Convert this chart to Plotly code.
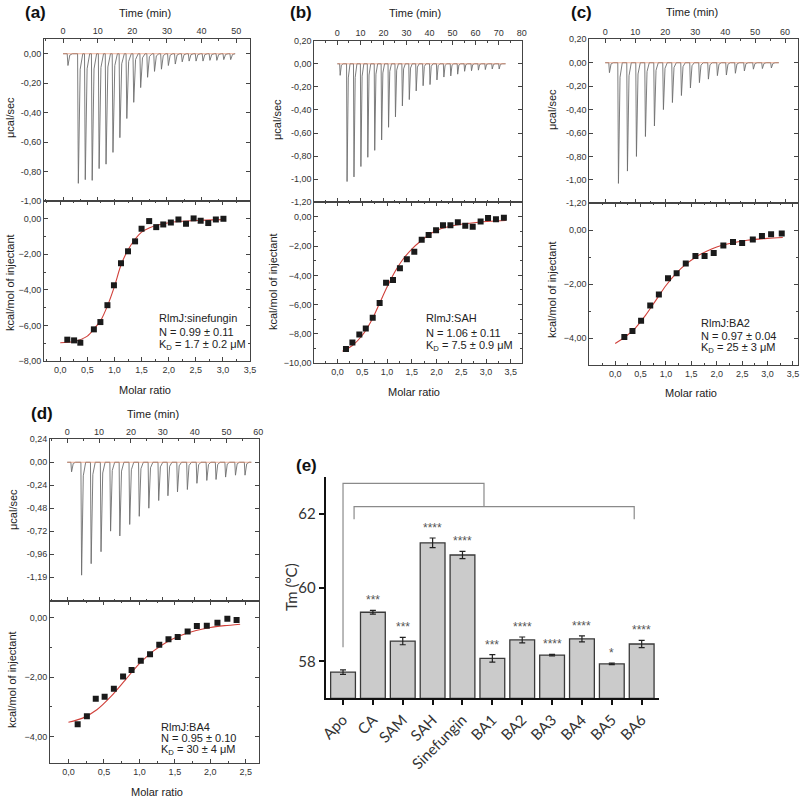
import plotly.graph_objects as go

W, H = 800, 799

# ---------------- DATA ----------------
# (a) RlmJ:sinefungin
a_inj_time = [1.2, 4.2, 6.2, 8.2, 10.2, 12.2, 14.2, 16.2, 18.2, 20.2, 22.2, 24.2, 26.2, 28.2,
              30.2, 32.2, 34.2, 36.2, 38.2, 40.2, 42.2, 44.2, 46.2, 48.2]
a_inj_depth = [-0.08, -0.88, -0.855, -0.86, -0.78, -0.75, -0.67, -0.57, -0.44, -0.33, -0.23, -0.16,
               -0.12, -0.105, -0.08, -0.07, -0.055, -0.05, -0.05, -0.05, -0.045, -0.045, -0.04, -0.04]
a_t_end = 49.6
a_time_ticks = [0, 10, 20, 30, 40, 50]
a_ratio = [0.13, 0.255, 0.37, 0.62, 0.74, 0.87, 0.99, 1.12, 1.25, 1.38, 1.5, 1.64, 1.77, 1.9,
           2.04, 2.18, 2.32, 2.46, 2.59, 2.73, 2.87, 3.01]
a_heat = [-6.8, -6.84, -6.97, -6.22, -5.81, -4.86, -3.74, -2.5, -1.83, -1.27, -0.56, -0.13, -0.47,
          -0.32, -0.21, -0.04, -0.28, 0.02, -0.11, -0.24, -0.04, 0.0]
a_fit_x = [0.0, 0.25, 0.5, 0.62, 0.75, 0.87, 1.0, 1.12, 1.25, 1.38, 1.5, 1.65, 1.8, 2.0, 2.5, 3.0]
a_fit_y = [-6.97, -6.9, -6.6, -6.2, -5.7, -4.9, -3.8, -2.6, -1.75, -1.15, -0.75, -0.5, -0.35, -0.22, -0.1, -0.05]
a_text = ["RlmJ:sinefungin", "N = 0.99 ± 0.11", "K<sub>D</sub> = 1.7 ± 0.2 μM"]

# (b) RlmJ:SAH
b_inj_time = [1, 4, 7, 10, 13, 16, 19, 22, 25, 28, 31, 34, 37, 40, 43, 46, 49, 52, 55, 58, 61, 64, 67, 70]
b_inj_depth = [-0.1, -1.02, -0.98, -0.89, -0.81, -0.75, -0.66, -0.55, -0.46, -0.365, -0.31, -0.235,
               -0.19, -0.18, -0.14, -0.115, -0.105, -0.09, -0.065, -0.06, -0.055, -0.05, -0.045, -0.045]
b_t_end = 73
b_time_ticks = [0, 10, 20, 30, 40, 50, 60, 70, 80]
b_ratio = [0.17, 0.30, 0.44, 0.57, 0.71, 0.85, 0.98, 1.12, 1.26, 1.40, 1.55, 1.70, 1.84, 1.99,
           2.13, 2.28, 2.43, 2.58, 2.73, 2.89, 3.04, 3.2, 3.36]
b_heat = [-9.05, -8.6, -8.05, -7.64, -6.9, -5.89, -4.5, -4.32, -3.52, -2.9, -2.39, -1.57, -1.23,
          -0.91, -0.57, -0.57, -0.36, -0.61, -0.68, -0.32, -0.07, -0.16, -0.05]
b_fit_x = [0.1, 0.3, 0.5, 0.7, 0.85, 1.0, 1.15, 1.3, 1.5, 1.7, 1.9, 2.1, 2.4, 2.8, 3.1, 3.4]
b_fit_y = [-9.2, -8.8, -8.1, -7.0, -5.9, -4.8, -3.8, -3.0, -2.2, -1.6, -1.1, -0.8, -0.55, -0.38, -0.3, -0.25]
b_text = ["RlmJ:SAH", "N = 1.06 ± 0.11", "K<sub>D</sub> = 7.5 ± 0.9 μM"]

# (c) RlmJ:BA2
c_inj_time = [1.2, 4.2, 7.2, 10.2, 13.2, 16.2, 19.2, 22.2, 25.2, 28.2, 31.2, 34.2, 37.2, 40.2,
              43.2, 46.2, 49.2, 52.2, 55.2]
c_inj_depth = [-0.085, -1.03, -0.925, -0.8, -0.63, -0.54, -0.4, -0.34, -0.28, -0.215, -0.17, -0.14,
               -0.11, -0.105, -0.09, -0.07, -0.055, -0.05, -0.045]
c_t_end = 57.9
c_time_ticks = [0, 10, 20, 30, 40, 50, 60]
c_ratio = [0.18, 0.34, 0.51, 0.69, 0.86, 1.04, 1.21, 1.39, 1.58, 1.76, 1.94, 2.13, 2.32, 2.5,
           2.71, 2.89, 3.07, 3.28]
c_heat = [-3.96, -3.74, -3.36, -2.79, -2.38, -1.78, -1.6, -1.23, -0.96, -0.96, -0.84, -0.57, -0.44,
          -0.47, -0.34, -0.21, -0.15, -0.12]
c_fit_x = [0.0, 0.2, 0.4, 0.6, 0.8, 1.0, 1.2, 1.4, 1.6, 1.8, 2.0, 2.3, 2.6, 3.0, 3.3]
c_fit_y = [-4.2, -3.95, -3.62, -3.15, -2.6, -2.05, -1.6, -1.25, -0.98, -0.78, -0.62, -0.47, -0.37, -0.3, -0.27]
c_text = ["RlmJ:BA2", "N = 0.97 ± 0.04", "K<sub>D</sub> = 25 ± 3 μM"]

# (d) RlmJ:BA4
d_inj_time = [1.15, 4.3, 7.3, 10.4, 13.4, 16.3, 19.4, 22.4, 25.4, 28.5, 31.4, 34.4, 37.5, 40.5,
              43.6, 46.5, 49.5, 52.6, 55.6]
d_inj_depth = [-0.1, -1.18, -1.06, -0.935, -0.72, -0.77, -0.65, -0.565, -0.48, -0.4, -0.35, -0.31,
               -0.285, -0.22, -0.19, -0.18, -0.155, -0.135, -0.135]
d_t_end = 57.8
d_time_ticks = [0, 10, 20, 30, 40, 50, 60]
d_ratio = [0.13, 0.26, 0.385, 0.51, 0.64, 0.77, 0.89, 1.02, 1.15, 1.28, 1.41, 1.54, 1.68, 1.81,
           1.95, 2.1, 2.24, 2.37]
d_heat = [-3.59, -3.32, -2.73, -2.66, -2.39, -1.98, -1.76, -1.45, -1.23, -0.91, -0.73, -0.65,
          -0.47, -0.28, -0.27, -0.17, -0.04, -0.08]
d_fit_x = [0.0, 0.2, 0.4, 0.6, 0.8, 1.0, 1.2, 1.4, 1.6, 1.8, 2.0, 2.2, 2.42]
d_fit_y = [-3.52, -3.38, -3.1, -2.65, -2.1, -1.55, -1.12, -0.8, -0.58, -0.43, -0.33, -0.27, -0.22]
d_text = ["RlmJ:BA4", "N = 0.95 ± 0.10", "K<sub>D</sub> = 30 ± 4 μM"]

# (e) Thermal shift
e_categories = ["Apo", "CA", "SAM", "SAH", "Sinefungin", "BA1", "BA2", "BA3", "BA4", "BA5", "BA6"]
e_tm = [57.71, 59.33, 58.55, 61.21, 60.88, 58.08, 58.58, 58.17, 58.61, 57.93, 58.47]
e_err = [0.06, 0.05, 0.1, 0.13, 0.1, 0.1, 0.08, 0.02, 0.08, 0.02, 0.1]
e_stars = ["", "***", "***", "****", "****", "***", "****", "****", "****", "*", "****"]
e_bracket1_x = [0.0, 0.0, 4.72, 4.72]
e_bracket1_y = [58.38, 62.82, 62.82, 62.19]
e_bracket2_x = [0.37, 0.37, 9.75, 9.75]
e_bracket2_y = [61.85, 62.19, 62.19, 61.85]

# ---------------- HELPERS ----------------
def px(x):
    return x / W

def py(y):
    return 1 - y / H

FONT = "Liberation Sans"
TICKC = "#333333"
RAW_C = "#6e6e6e"
FIT_C = "#d0403a"
BASE_C = "#e8825a"

def thermogram(times, depths, t_end):
    xs, ys = [0.0], [0.0]
    for t, d in zip(times, depths):
        xs += [t, t + 0.22, t + 0.75, t + 1.5]
        ys += [0.0, d, d * 0.12, 0.0]
    xs.append(t_end)
    ys.append(0.0)
    return xs, ys

fig = go.Figure()
layout = dict(
    width=W, height=H, margin=dict(l=0, r=0, t=0, b=0, autoexpand=False),
    paper_bgcolor="white", plot_bgcolor="white", showlegend=False,
    separators=", ", font=dict(family=FONT, color="#222"),
)
annotations = []

def label(xp, yp, text, size=11, angle=0, family=FONT, color="#222", xanchor="center"):
    annotations.append(dict(x=px(xp), y=py(yp), xref="paper", yref="paper", text=text,
                            showarrow=False, textangle=angle, xanchor=xanchor, yanchor="middle",
                            align="left", font=dict(size=size, family=family, color=color)))

def axis_common():
    return dict(showline=True, linecolor="#444", linewidth=1, mirror="allticks",
                ticks="inside", ticklen=4, tickcolor="#444", showgrid=False, zeroline=False,
                automargin=False,
                tickfont=dict(size=9, color=TICKC, family=FONT))

ratio_ticks_35 = [0, 0.5, 1.0, 1.5, 2.0, 2.5, 3.0, 3.5]
ratio_ticks_25 = [0, 0.5, 1.0, 1.5, 2.0, 2.5]

panels = [
    dict(label="(a)", lab_pos=(35, 12), times=a_inj_time, depths=a_inj_depth, tend=a_t_end,
         tticks=a_time_ticks,
         ratio=a_ratio, heat=a_heat, fx=a_fit_x, fy=a_fit_y, text=a_text,
         box=(44, 250, 39, 201, 361), trange=[-5.5, 54],
         rrange=[-0.3, 3.5], rticks=ratio_ticks_35, ytop=[-1.0, 0.1],
         ytop_vals=[0, -0.2, -0.4, -0.6, -0.8, -1.0],
         ytop_text=["0,00", "-0,20", "-0,40", "-0,60", "-0,80", "-1,00"],
         ybot=[-8, 1], ybot_vals=[0, -2, -4, -6, -8],
         txt_x=157, txt_y=[318, 332, 345], time_title=(145, 13), mr_title=(145, 390),
         ucal=(10, 118), kcal=(10, 283)),
    dict(label="(b)", lab_pos=(301, 12), times=b_inj_time, depths=b_inj_depth, tend=b_t_end,
         tticks=b_time_ticks,
         ratio=b_ratio, heat=b_heat, fx=b_fit_x, fy=b_fit_y, text=b_text,
         box=(314.3, 521.7, 40.7, 202.3, 363), trange=[-10, 80],
         rrange=[-0.47, 3.72], rticks=ratio_ticks_35, ytop=[-1.2, 0.2],
         ytop_vals=[0.2, 0, -0.2, -0.4, -0.6, -0.8, -1.0, -1.2],
         ytop_text=["0,20", "0,00", "-0,20", "-0,40", "-0,60", "-0,80", "-1,00", "-1,20"],
         ybot=[-10, 1], ybot_vals=[0, -2, -4, -6, -8, -10],
         txt_x=424, txt_y=[318, 333, 346], time_title=(415, 13), mr_title=(414, 392),
         ucal=(277, 120), kcal=(273, 282)),
    dict(label="(c)", lab_pos=(581, 12), times=c_inj_time, depths=c_inj_depth, tend=c_t_end,
         tticks=c_time_ticks,
         ratio=c_ratio, heat=c_heat, fx=c_fit_x, fy=c_fit_y, text=c_text,
         box=(589.3, 798, 39.3, 203.3, 365), trange=[-5.3, 64.3],
         rrange=[-0.51, 3.6], rticks=ratio_ticks_35, ytop=[-1.2, 0.2],
         ytop_vals=[0.2, 0, -0.2, -0.4, -0.6, -0.8, -1.0, -1.2],
         ytop_text=["0,20", "0,00", "-0,20", "-0,40", "-0,60", "-0,80", "-1,00", "-1,20"],
         ybot=[-5, 1], ybot_vals=[0, -2, -4],
         txt_x=699, txt_y=[323, 336, 348], time_title=(692, 12), mr_title=(691, 393),
         ucal=(552, 110), kcal=(552, 290)),
    dict(label="(d)", lab_pos=(42, 413), times=d_inj_time, depths=d_inj_depth, tend=d_t_end,
         tticks=d_time_ticks,
         ratio=d_ratio, heat=d_heat, fx=d_fit_x, fy=d_fit_y, text=d_text,
         box=(50, 259.3, 439.3, 601, 763.3), trange=[-5.4, 60.3],
         rrange=[-0.26, 2.69], rticks=ratio_ticks_25, ytop=[-1.45, 0.24],
         ytop_vals=[0.24, 0, -0.24, -0.48, -0.72, -0.96, -1.2],
         ytop_text=["0,24", "0,00", "-0,24", "-0,48", "-0,72", "-0,96", "-1,19"],
         ybot=[-4.9, 0.56], ybot_vals=[0, -2, -4],
         txt_x=159, txt_y=[727, 738, 750], time_title=(153, 414), mr_title=(157, 792),
         ucal=(13, 510), kcal=(12, 680)),
]

for i, p in enumerate(panels):
    kt = 2 * i + 1
    kb = 2 * i + 2
    L, R, T, M, B = p["box"]
    xdom = [px(L), px(R)]
    xa = axis_common()
    xa.update(domain=xdom, range=p["trange"], side="top", anchor=f"y{kt}",
              tickvals=p["tticks"],
              minor=dict(ticks="inside", ticklen=2, dtick=5, tick0=0, tickcolor="#444"))
    ya = axis_common()
    ya.update(domain=[py(M), py(T)], range=p["ytop"], anchor=f"x{kt}",
              tickvals=p["ytop_vals"], ticktext=p["ytop_text"])
    layout[f"xaxis{kt if kt > 1 else ''}"] = xa
    layout[f"yaxis{kt if kt > 1 else ''}"] = ya
    xb = axis_common()
    xb.update(domain=xdom, range=p["rrange"], side="bottom", anchor=f"y{kb}",
              tickvals=p["rticks"], tickformat=".1f",
              minor=dict(ticks="inside", ticklen=2, dtick=0.25, tick0=0, tickcolor="#444"))
    yb = axis_common()
    yb.update(domain=[py(B), py(M)], range=p["ybot"], anchor=f"x{kb}",
              tickvals=p["ybot_vals"], tickformat=".2f",
              minor=dict(ticks="inside", ticklen=2, dtick=1, tickcolor="#444"))
    layout[f"xaxis{kb}"] = xb
    layout[f"yaxis{kb}"] = yb

    tx, ty = thermogram(p["times"], p["depths"], p["tend"])
    xt = "x" if kt == 1 else f"x{kt}"
    yt = "y" if kt == 1 else f"y{kt}"
    fig.add_trace(go.Scatter(x=tx, y=ty, mode="lines", line=dict(color=RAW_C, width=0.9),
                             xaxis=xt, yaxis=yt, hoverinfo="skip"))
    fig.add_trace(go.Scatter(x=[tx[0], tx[-1]], y=[0, 0], mode="lines",
                             line=dict(color=BASE_C, width=0.6),
                             xaxis=xt, yaxis=yt, hoverinfo="skip"))
    fig.add_trace(go.Scatter(x=p["fx"], y=p["fy"], mode="lines",
                             line=dict(color=FIT_C, width=1.1, shape="spline", smoothing=0.8),
                             xaxis=f"x{kb}", yaxis=f"y{kb}"))
    fig.add_trace(go.Scatter(x=p["ratio"], y=p["heat"], mode="markers",
                             marker=dict(symbol="square", size=6, color="#1a1a1a"),
                             xaxis=f"x{kb}", yaxis=f"y{kb}"))

    label(*p["lab_pos"], f"<b>{p['label']}</b>", size=17, color="#111")
    label(*p["time_title"], "Time (min)")
    label(*p["mr_title"], "Molar ratio")
    label(*p["ucal"], "μcal/sec", angle=-90)
    label(*p["kcal"], "kcal/mol of injectant", angle=-90)
    for line, yy in zip(p["text"], p["txt_y"]):
        label(p["txt_x"], yy, line, xanchor="left")

# ---------------- panel (e) ----------------
EFONT = "Lato"
xi = list(range(len(e_categories)))
fig.add_trace(go.Bar(x=xi, y=[v - 57 for v in e_tm], base=57, width=0.83,
                     marker=dict(color="#cbcbcb", line=dict(color="#3a3a3a", width=1.3)),
                     error_y=dict(type="data", array=e_err, color="#222", thickness=1.2, width=3),
                     xaxis="x9", yaxis="y9"))
fig.add_trace(go.Scatter(x=e_bracket1_x, y=e_bracket1_y, mode="lines",
                         line=dict(color="#8a8a8a", width=1.2), xaxis="x9", yaxis="y9"))
fig.add_trace(go.Scatter(x=e_bracket2_x, y=e_bracket2_y, mode="lines",
                         line=dict(color="#8a8a8a", width=1.2), xaxis="x9", yaxis="y9"))
layout["xaxis9"] = dict(domain=[px(325.7), px(659)], range=[-0.58, 10.58], anchor="y9",
                        tickvals=xi, ticktext=e_categories, tickangle=-45, automargin=False,
                        showline=True, linecolor="#111", linewidth=2, ticks="outside",
                        ticklen=5, tickwidth=2, tickcolor="#111", showgrid=False, zeroline=False,
                        tickfont=dict(size=15, family=EFONT, color="#333"))
layout["yaxis9"] = dict(domain=[py(698.3), py(476.7)], range=[57, 63], anchor="x9",
                        tickvals=[58, 60, 62], showline=True, linecolor="#111", linewidth=2,
                        ticks="outside", ticklen=5, tickwidth=2, tickcolor="#111",
                        showgrid=False, zeroline=False, automargin=False,
                        tickfont=dict(size=15, family=EFONT, color="#333"))
for k, s in enumerate(e_stars):
    if s:
        annotations.append(dict(x=k, y=e_tm[k] + e_err[k], xref="x9", yref="y9", text=s,
                                showarrow=False, xanchor="center", yanchor="bottom", yshift=1,
                                font=dict(size=12, family=FONT, color="#555")))
label(306, 465, "<b>(e)</b>", size=17, color="#111")
label(291, 587, "Tm (°C)", size=15, angle=-90, family=EFONT, color="#333")

layout["annotations"] = annotations
fig.update_layout(**layout)
fig.write_html("out.html", config={"displayModeBar": False},
               post_script="document.body.style.margin='0';document.body.style.padding='0';")
